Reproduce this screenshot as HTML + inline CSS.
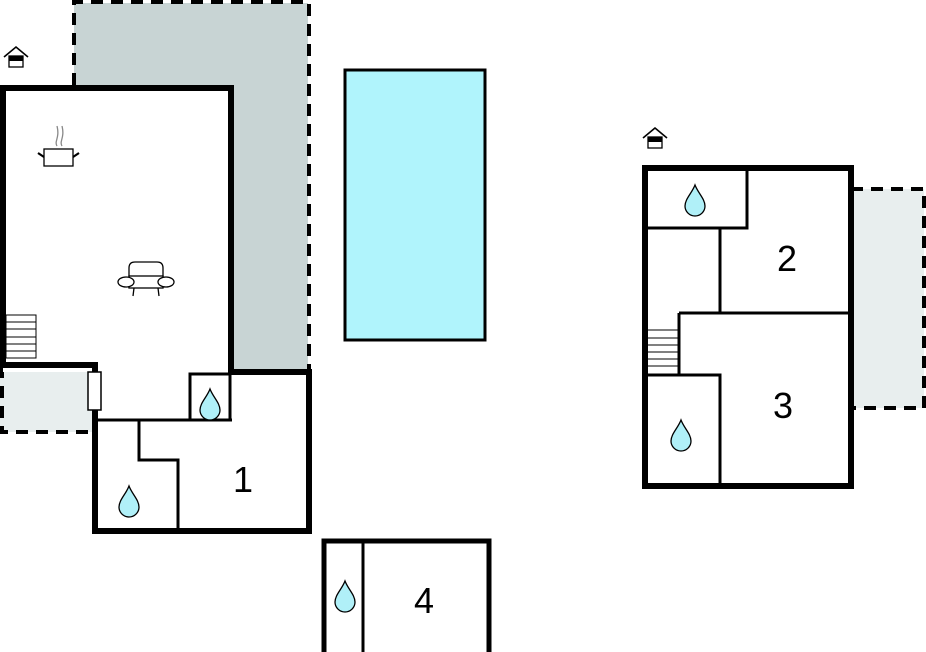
<!DOCTYPE html>
<html><head><style>body{margin:0;background:#fff}svg{display:block}</style></head><body>
<svg width="926" height="652" viewBox="0 0 926 652" xmlns="http://www.w3.org/2000/svg">
<defs>
<g id="drop"><path d="M0,-16 C3,-8 10,-2 10,5 A10,10 0 0 1 -10,5 C-10,-2 -3,-8 0,-16Z" fill="#b0f0f8" stroke="#000" stroke-width="1.3"/></g>
<g id="house"><path d="M-12,0 L0,-10 L12,0" fill="none" stroke="#000" stroke-width="1.6"/><rect x="-7" y="-1" width="14" height="11" fill="#fff" stroke="#000" stroke-width="1.3"/><rect x="-7" y="-1" width="14" height="5" fill="#000"/></g>
</defs>
<!-- grey terrace -->
<rect x="74" y="3" width="234" height="369" fill="#c8d4d4"/>
<path d="M74,85 L74,2 L309,2 L309,372" fill="none" stroke="#000" stroke-width="4" stroke-dasharray="12,8"/>
<!-- left patio -->
<rect x="0" y="366" width="93" height="66" fill="#e8eeee"/>
<path d="M2,366 L2,432 L93,432" fill="none" stroke="#000" stroke-width="4" stroke-dasharray="12,8"/>
<!-- main building -->
<rect x="3" y="88" width="228" height="284" fill="#fff"/>
<rect x="96" y="372" width="212" height="158" fill="#fff"/>
<path d="M3,365 L3,88 L231,88 L231,375" fill="none" stroke="#000" stroke-width="6"/>
<path d="M0,365 L95,365 L95,531 L309,531 L309,372 L228,372" fill="none" stroke="#000" stroke-width="6"/>
<!-- inner walls -->
<g fill="none" stroke="#000" stroke-width="3">
<path d="M95,420 L232,420"/>
<rect x="190" y="374" width="40" height="46"/>
<path d="M139,420 L139,460 L178,460 L178,530"/>
</g>
<!-- door -->
<rect x="88" y="372" width="13" height="38" fill="#fff" stroke="#000" stroke-width="1.5"/>
<!-- stairs -->
<g stroke="#000" stroke-width="1" fill="#fff"><rect x="6" y="315" width="30" height="43"/>
<path d="M6,322H36M6,329H36M6,337H36M6,344H36M6,351H36"/></g>
<use href="#drop" x="210" y="405"/>
<use href="#drop" x="129" y="502"/>
<text x="243" y="492" font-family="Liberation Sans, sans-serif" font-size="36" text-anchor="middle">1</text>
<use href="#house" x="16" y="57"/>
<!-- pot -->
<g stroke="#000" stroke-width="1.3" fill="#fff">
<rect x="44" y="149" width="29" height="17"/>
<path d="M38,153 L44,157 M79,153 L73,157" stroke-width="2.2"/>
<path d="M57,146 C54,141 60,138 57,126 M62,146 C59,141 65,138 62,126" stroke="#888" fill="none"/>
</g>
<!-- armchair -->
<g stroke="#000" stroke-width="1.3" fill="#fff">
<path d="M129,288 L129,268 Q129,262 135,262 L157,262 Q163,262 163,268 L163,288"/>
<rect x="129" y="276" width="34" height="12"/>
<ellipse cx="126" cy="282" rx="8" ry="5"/>
<ellipse cx="166" cy="282" rx="8" ry="5"/>
<path d="M134,288 L133,296 M158,288 L159,296" fill="none"/>
</g>
<!-- pool -->
<rect x="345" y="70" width="140" height="270" fill="#b0f4fc" stroke="#000" stroke-width="3"/>
<!-- building 4 -->
<rect x="324" y="541" width="165" height="115" fill="#fff" stroke="#000" stroke-width="5"/>
<path d="M363,541 L363,652" stroke="#000" stroke-width="3"/>
<use href="#drop" x="345" y="597"/>
<text x="424" y="613" font-family="Liberation Sans, sans-serif" font-size="36" text-anchor="middle">4</text>
<!-- right patio -->
<rect x="851" y="189" width="73" height="219" fill="#e8eeee"/>
<path d="M851,189 L924,189 L924,408 L851,408" fill="none" stroke="#000" stroke-width="4" stroke-dasharray="12,8"/>
<!-- right building -->
<rect x="645" y="168" width="206" height="318" fill="#fff" stroke="#000" stroke-width="6"/>
<g fill="none" stroke="#000" stroke-width="3">
<path d="M645,228 L747,228 L747,168"/>
<path d="M720,228 L720,313"/>
<path d="M679,313 L851,313"/>
<path d="M679,313 L679,375"/>
<path d="M645,375 L720,375 L720,486"/>
</g>
<g stroke="#000" stroke-width="1" fill="none"><path d="M648,330H679M648,338H679M648,345H679M648,352H679M648,359H679M648,366H679"/></g>
<use href="#drop" x="695" y="201"/>
<use href="#drop" x="681" y="436"/>
<text x="787" y="271" font-family="Liberation Sans, sans-serif" font-size="36" text-anchor="middle">2</text>
<text x="783" y="418" font-family="Liberation Sans, sans-serif" font-size="36" text-anchor="middle">3</text>
<use href="#house" x="655" y="138"/>
</svg>
</body></html>
